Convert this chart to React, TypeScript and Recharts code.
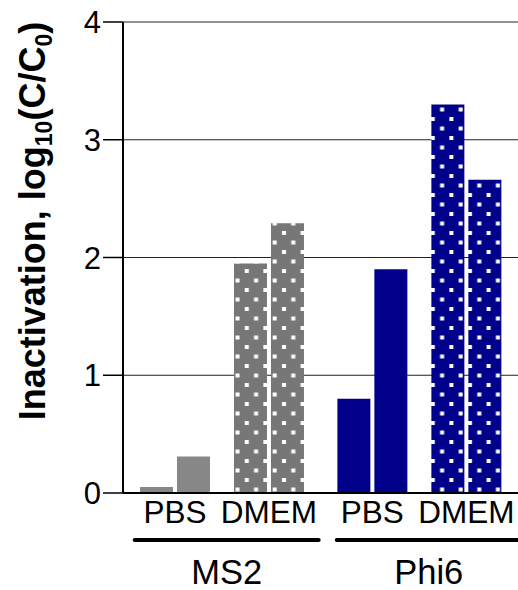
// @ts-nocheck
import { BarChart, Bar, XAxis, YAxis, CartesianGrid, Cell } from 'recharts'

const categories = ['PBS', 'DMEM', 'PBS', 'DMEM']
const catPos = [1, 2, 3.1, 4.1]
const groups = ['MS2', 'Phi6']
const groupPos = [1.55, 3.7]
const rep1 = [0.05, 1.95, 0.8, 3.3]
const rep2 = [0.31, 2.29, 1.9, 2.66]
const virus = ['MS2', 'MS2', 'Phi6', 'Phi6']
const yTicks = [0, 1, 2, 3, 4]

const FONT = '"Liberation Sans", Arial, Helvetica, sans-serif'
const solid = { MS2: '#878787', Phi6: '#00008b' }
const dotted = { MS2: 'url(#dotsGray)', Phi6: 'url(#dotsNavy)' }

const data = categories.map((c, i) => ({
  pos: catPos[i],
  medium: c,
  virus: virus[i],
  rep1: rep1[i],
  rep2: rep2[i],
}))

function fillFor(d) {
  return d.medium === 'DMEM' ? dotted[d.virus] : solid[d.virus]
}

// one axis carries both the medium labels and the virus group labels
function XTick({ x, y, payload }) {
  const ci = catPos.indexOf(payload.value)
  if (ci >= 0) {
    return (
      <text x={x} y={y + 28} textAnchor="middle" fontSize={31.5} fontFamily={FONT} fill="#000">
        {categories[ci]}
      </text>
    )
  }
  const gi = groupPos.indexOf(payload.value)
  return (
    <g>
      <line x1={x - 92} x2={x + 92} y1={y + 45} y2={y + 45} stroke="#000" strokeWidth={4} strokeLinecap="round" />
      <text x={x} y={y + 89} textAnchor="middle" fontSize={34.5} fontFamily={FONT} fill="#000">
        {groups[gi]}
      </text>
    </g>
  )
}

function YTick({ x, y, payload }) {
  return (
    <text x={x} y={y + 11} textAnchor="end" fontSize={31} fontFamily={FONT} fill="#000">
      {payload.value}
    </text>
  )
}

function YLabel() {
  return (
    <text
      x={45}
      y={221}
      transform="rotate(-90, 45, 221)"
      textAnchor="middle"
      fontSize={36}
      fontWeight="bold"
      fontFamily={FONT}
      fill="#000"
    >
      Inactivation, log
      <tspan fontSize={23} dy={7}>10</tspan>
      <tspan dy={-7}>(C/C</tspan>
      <tspan fontSize={23} dy={7}>0</tspan>
      <tspan dy={-7}>)</tspan>
    </text>
  )
}

function Dots({ id, color }) {
  return (
    <pattern id={id} patternUnits="userSpaceOnUse" width={18.6} height={19}>
      <rect width={18.6} height={19} fill={color} />
      <rect x={3} y={3} width={4} height={4} fill="#fff" />
      <rect x={12.3} y={12.5} width={4} height={4} fill="#fff" />
    </pattern>
  )
}

export default function App() {
  return (
    <div style={{ position: 'absolute', left: 0, top: 0, background: '#fff' }}>
      <BarChart
        width={530}
        height={590}
        data={data}
        margin={{ top: 22, right: 0, left: 0, bottom: 0 }}
        barGap={4}
      >
        <defs>
          <Dots id="dotsGray" color="#777777" />
          <Dots id="dotsNavy" color="#00008b" />
        </defs>
        <CartesianGrid horizontal vertical={false} stroke="#222" strokeWidth={1.2} />
        <XAxis
          dataKey="pos"
          type="number"
          domain={[0.447, 4.777]}
          ticks={[...catPos, ...groupPos]}
          allowDataOverflow
          height={97}
          axisLine={{ stroke: '#000', strokeWidth: 2 }}
          tickLine={false}
          tickSize={0}
          tick={<XTick />}
          interval={0}
        />
        <YAxis
          type="number"
          domain={[0, 4]}
          ticks={yTicks}
          width={123}
          axisLine={{ stroke: '#000', strokeWidth: 2 }}
          tickLine={{ stroke: '#000', strokeWidth: 1.5 }}
          tickSize={20}
          tickMargin={2}
          tick={<YTick />}
          label={<YLabel />}
        />
        <Bar dataKey="rep1" barSize={33} isAnimationActive={false}>
          {data.map((d, i) => (
            <Cell key={i} fill={fillFor(d)} />
          ))}
        </Bar>
        <Bar dataKey="rep2" barSize={33} isAnimationActive={false}>
          {data.map((d, i) => (
            <Cell key={i} fill={fillFor(d)} />
          ))}
        </Bar>
      </BarChart>
    </div>
  )
}
